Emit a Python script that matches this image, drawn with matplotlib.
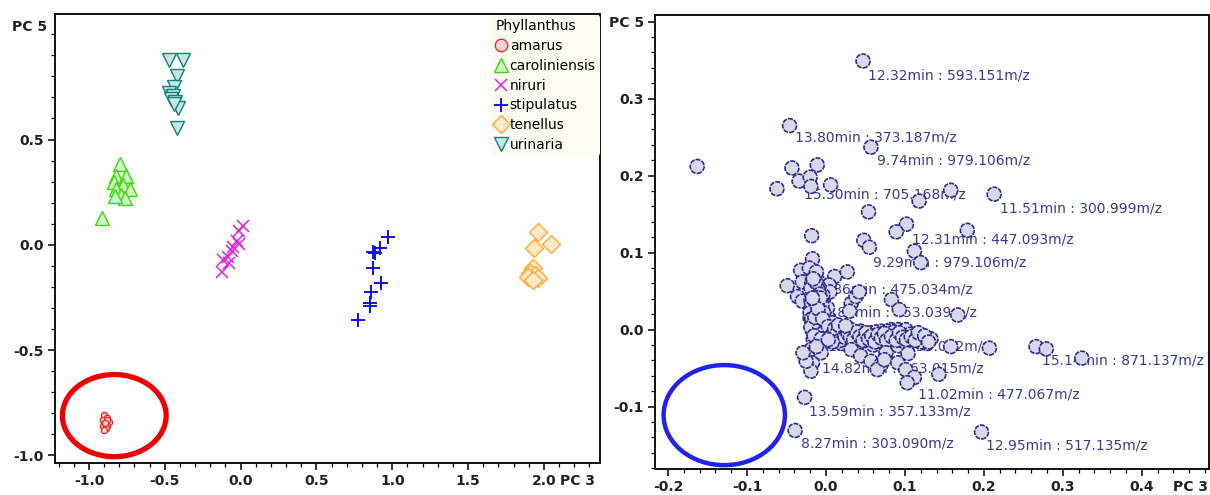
import matplotlib
matplotlib.use("Agg")
import matplotlib.pyplot as plt
from matplotlib.patches import Ellipse
from matplotlib.lines import Line2D
from matplotlib.ticker import MultipleLocator

plt.rcParams['font.family'] = ['DejaVu Sans']
plt.rcParams['axes.unicode_minus'] = False

# ---------------- Left panel: scores (PC3 vs PC5) ----------------
species = ["amarus", "caroliniensis", "niruri", "stipulatus", "tenellus", "urinaria"]

amarus_x = [-0.90, -0.88, -0.91, -0.89, -0.87, -0.90, -0.88, -0.91, -0.89, -0.90, -0.88, -0.895]
amarus_y = [-0.81, -0.82, -0.83, -0.84, -0.84, -0.85, -0.86, -0.86, -0.87, -0.88, -0.83, -0.845]

carol_x = [-0.915, -0.794, -0.820, -0.756, -0.833, -0.774, -0.731, -0.820, -0.789, -0.764, -0.828]
carol_y = [0.127, 0.384, 0.329, 0.329, 0.297, 0.285, 0.263, 0.263, 0.237, 0.222, 0.234]

niruri_x = [0.017, -0.009, -0.026, -0.009, -0.049, -0.059, -0.082, -0.115, -0.075, -0.125]
niruri_y = [0.090, 0.065, 0.017, 0.002, -0.009, -0.030, -0.057, -0.072, -0.088, -0.127]

stip_x = [0.973, 0.922, 0.874, 0.885, 0.870, 0.923, 0.863, 0.852, 0.852, 0.775]
stip_y = [0.038, -0.014, -0.033, -0.041, -0.108, -0.182, -0.225, -0.277, -0.292, -0.355]

ten_x = [1.962, 2.050, 1.933, 1.925, 1.907, 1.940, 1.896, 1.962, 1.929]
ten_y = [0.061, 0.006, -0.017, -0.108, -0.135, -0.143, -0.151, -0.159, -0.167]

uri_x = [-0.471, -0.382, -0.422, -0.438, -0.471, -0.448, -0.461, -0.433, -0.411, -0.440, -0.422]
uri_y = [0.876, 0.879, 0.803, 0.750, 0.722, 0.709, 0.693, 0.678, 0.651, 0.667, 0.557]

left_xticks = [-1.0, -0.5, 0.0, 0.5, 1.0, 1.5, 2.0]
left_yticks = [-1.0, -0.5, 0.0, 0.5]

# ---------------- Right panel: loadings ----------------
load_x = [
    0.047, -0.046, 0.057, -0.163, -0.043, -0.011, -0.034, -0.020, -0.019, 0.006, -0.062,
    0.158, 0.118, 0.213, 0.054, 0.102, 0.089, 0.179, -0.018, 0.048, 0.055, 0.112, 0.120,
    -0.017, -0.032, -0.021, -0.013, 0.011, 0.027, -0.030, -0.006, 0.004, -0.049, -0.036,
    -0.030, 0.032, 0.038, 0.030, -0.019, 0.042, 0.005, 0.083, 0.093, 0.167,
    -0.015, -0.011, -0.006, -0.016, -0.012, -0.008, -0.014, -0.010, -0.005, 0.000, -0.018,
    -0.013, -0.008, -0.003, -0.009, -0.004, 0.002, -0.017, -0.012, -0.020, -0.007, -0.015,
    -0.002, -0.010, 0.004,
    0.002, 0.008, 0.015, 0.019, 0.027, 0.032, 0.040, 0.044, 0.053, 0.057, 0.070, 0.082,
    0.078, 0.091, 0.101, 0.110, 0.124, 0.133, 0.103, 0.091, 0.065, 0.048, 0.024, 0.012,
    0.036, 0.060, 0.075, 0.115, 0.128, 0.020, 0.010, 0.006, 0.016, 0.030, 0.045, 0.088,
    -0.018, -0.014, -0.010, -0.016, -0.011, -0.019, -0.015, -0.009, -0.013, -0.017, -0.007,
    -0.012, -0.016, -0.006, -0.011, -0.015, -0.004, -0.009, -0.013, -0.017, -0.007, -0.010,
    -0.014, -0.004, -0.011, -0.016, -0.002, 0.001,
    0.004, 0.009, 0.013, 0.017, 0.022, 0.026, 0.029, 0.034, 0.038, 0.042, 0.046, 0.050,
    0.055, 0.061, 0.063, 0.068, 0.072, 0.080, 0.085, 0.095, 0.098, 0.106, 0.118, 0.120, 0.086,
    -0.019, -0.013, -0.008, -0.018, -0.005, -0.014, -0.020, -0.009, -0.003, -0.018, -0.013,
    -0.006, -0.019, -0.008, -0.003, -0.015, -0.006, -0.012, -0.016, -0.007, -0.014, -0.010,
    -0.004, -0.017,
    0.003, 0.007, 0.011, 0.014, 0.018, 0.021, 0.024, 0.028, 0.031, 0.035, 0.039, 0.043,
    0.047, 0.051, 0.054, 0.058, 0.062, 0.066, 0.070, 0.074, 0.077, 0.083, 0.089, 0.093,
    0.097, 0.102, 0.108, 0.113, 0.117, 0.125, 0.130, 0.016, 0.025, 0.008, 0.003,
    -0.019, -0.023, -0.017, -0.019, -0.025, -0.006, 0.032, 0.044, 0.057, 0.070, 0.065,
    0.076, 0.074, -0.029, -0.012,
    0.158, 0.207, 0.266, 0.279, 0.324, 0.091, 0.101, 0.112, 0.103, 0.143, 0.104,
    -0.027, -0.039, 0.197,
]
load_y = [
    0.349, 0.265, 0.237, 0.212, 0.210, 0.214, 0.193, 0.198, 0.186, 0.188, 0.183,
    0.181, 0.167, 0.176, 0.153, 0.137, 0.127, 0.129, 0.122, 0.116, 0.107, 0.102, 0.087,
    0.092, 0.077, 0.080, 0.071, 0.069, 0.075, 0.062, 0.060, 0.058, 0.057, 0.043,
    0.037, 0.034, 0.043, 0.024, 0.028, 0.049, 0.049, 0.039, 0.026, 0.019,
    0.017, 0.004, -0.004, 0.050, 0.040, 0.030, 0.025, 0.012, 0.020, 0.010, 0.008,
    -0.010, -0.015, 0.035, 0.055, 0.045, 0.028, 0.065, 0.075, 0.015, 0.002, 0.033,
    -0.008, 0.022, 0.014,
    -0.006, 0.009, -0.009, 0.004, -0.011, 0.000, -0.013, -0.002, -0.015, -0.004, -0.002, 0.000,
    -0.002, 0.000, 0.000, -0.011, -0.013, -0.012, -0.026, -0.021, -0.010, -0.008, -0.004, 0.002,
    -0.017, -0.020, -0.012, -0.005, -0.018, -0.018, -0.014, -0.002, 0.003, -0.006, -0.011, -0.008,
    0.060, 0.058, 0.052, 0.045, 0.048, 0.038, 0.036, 0.038, 0.031, 0.027, 0.026,
    0.021, 0.019, 0.016, 0.013, 0.009, 0.008, 0.006, 0.001, -0.002, -0.001, -0.007,
    -0.005, -0.010, -0.016, -0.012, 0.003, -0.002,
    -0.010, -0.004, -0.012, -0.001, -0.009, -0.002, -0.014, -0.006, -0.010, -0.016, -0.005, -0.012,
    -0.009, -0.013, -0.003, -0.008, -0.015, -0.007, -0.012, -0.008, -0.015, -0.006, -0.010, -0.016, -0.003,
    0.054, 0.062, 0.046, 0.032, 0.032, 0.042, 0.022, 0.018, 0.022, 0.014, 0.006,
    0.011, 0.003, 0.001, -0.004, -0.008, -0.012, 0.034, 0.066, 0.041, 0.016, 0.027,
    0.014, 0.041,
    0.004, -0.008, 0.001, -0.005, -0.014, 0.000, -0.010, -0.005, -0.010, -0.013, -0.003, -0.009,
    -0.014, -0.004, -0.012, -0.008, -0.016, -0.006, -0.011, -0.005, -0.014, -0.009, -0.014, -0.004,
    -0.010, -0.013, -0.009, -0.014, -0.004, -0.008, -0.016, 0.006, 0.005, -0.016, -0.013,
    -0.026, -0.034, -0.043, -0.054, -0.041, -0.030, -0.026, -0.034, -0.041, -0.045, -0.052,
    -0.030, -0.039, -0.030, -0.022,
    -0.022, -0.024, -0.022, -0.025, -0.037, -0.043, -0.052, -0.062, -0.069, -0.058, -0.031,
    -0.088, -0.131, -0.133,
]

label_text = [
    "12.32min : 593.151m/z", "13.80min : 373.187m/z", "9.74min : 979.106m/z",
    "15.30min : 705.168m/z", "11.51min : 300.999m/z", "12.31min : 447.093m/z",
    "9.29min : 979.106m/z", "7.86min : 475.034m/z", "8.82min : 453.039m/z",
    "12.61min : 433.062m/z", "14.82min : 363.015m/z", "15.14min : 871.137m/z",
    "11.02min : 477.067m/z", "13.59min : 357.133m/z", "8.27min : 303.090m/z",
    "12.95min : 517.135m/z",
]
label_x = [0.053, -0.039, 0.065, -0.028, 0.221, 0.109, 0.060, -0.007, -0.002,
           0.002, -0.005, 0.273, 0.1165, -0.021, -0.032, 0.203]
label_y = [0.330, 0.249, 0.220, 0.175, 0.158, 0.117, 0.0875, 0.0517, 0.0228,
           -0.0216, -0.0504, -0.0405, -0.0836, -0.1065, -0.148, -0.151]

right_xticks = [-0.2, -0.1, 0.0, 0.1, 0.2, 0.3, 0.4]
right_yticks = [-0.1, 0.0, 0.1, 0.2, 0.3]

# ---------------- Figure ----------------
W, H = 1210, 495
fig = plt.figure(figsize=(W / 100, H / 100), dpi=100)
axL = fig.add_axes([55 / W, (H - 463) / H, 545 / W, 449 / H])
axR = fig.add_axes([655 / W, (H - 469) / H, 554 / W, 454 / H])

tick_font = dict(fontsize=10, fontweight='bold', color='#222222')

styles = {
    "amarus": dict(marker='o', ms=4.5, mfc='#ffd0d0', mec='#ee2222', mew=0.9),
    "caroliniensis": dict(marker='^', ms=10, mfc='#d2f2c8', mec='#33dd00', mew=1.0),
    "niruri": dict(marker='x', ms=9, mec='#dd22dd', mew=1.1),
    "stipulatus": dict(marker='+', ms=10, mec='#1010ee', mew=1.4),
    "tenellus": dict(marker='D', ms=9, mfc='#ffe8c8', mec='#ffaa33', mew=1.0),
    "urinaria": dict(marker='v', ms=10, mfc='#c8e6e0', mec='#118080', mew=1.0),
}
data = {
    "amarus": (amarus_x, amarus_y),
    "caroliniensis": (carol_x, carol_y),
    "niruri": (niruri_x, niruri_y),
    "stipulatus": (stip_x, stip_y),
    "tenellus": (ten_x, ten_y),
    "urinaria": (uri_x, uri_y),
}
for sp in species:
    x, y = data[sp]
    axL.plot(x, y, linestyle='none', **styles[sp], zorder=3)

axL.set_xlim(-1.224, 2.37)
axL.set_ylim(-1.036, 1.096)
axL.set_xticks(left_xticks)
axL.set_yticks(left_yticks)
axL.set_xticklabels([f"{v:.1f}" for v in left_xticks], **tick_font)
axL.set_yticklabels([f"{v:.1f}" for v in left_yticks], **tick_font)
axL.xaxis.set_minor_locator(MultipleLocator(0.1))
axL.yaxis.set_minor_locator(MultipleLocator(0.1))
axL.annotate("PC 5", xy=(0, 1.035), xycoords=('axes fraction', 'data'),
             xytext=(-6, 0), textcoords='offset points', ha='right', va='center',
             **tick_font)
axL.annotate("PC 3", xy=(2.22, 0), xycoords=('data', 'axes fraction'),
             xytext=(0, -8), textcoords='offset points', ha='center', va='top',
             **tick_font)
axL.add_patch(Ellipse((-0.833, -0.811), 0.684, 0.39, fill=False,
                      edgecolor='#ee0000', lw=3.8, zorder=4))

handles = []
for sp in species:
    st = dict(styles[sp])
    if sp == "amarus":
        st['ms'] = 9
    handles.append(Line2D([], [], linestyle='none', **st))
leg = axL.legend(handles, species, title="Phyllanthus", loc='upper left',
                 bbox_to_anchor=(0.80, 0.998), frameon=True, fontsize=10,
                 title_fontsize=10, handlelength=0.9, handletextpad=0.15,
                 labelspacing=0.42, borderpad=0.3, borderaxespad=0.0,
                 alignment='left')
leg.get_frame().set_facecolor('#fcfcf2')
leg.get_frame().set_edgecolor('none')
leg.get_frame().set_alpha(1.0)

# right panel
for lx, ly, lt in zip(label_x, label_y, label_text):
    axR.text(lx, ly, lt, fontsize=10, color='#3a3a96', ha='left', va='center', zorder=2)
axR.scatter(load_x, load_y, s=100, facecolor='#d8d8ea', edgecolor='#2d2d8c',
            linewidths=1.2, linestyles=(0, (3.0, 0.7)), zorder=3)
axR.set_xlim(-0.2164, 0.485)
axR.set_ylim(-0.181, 0.4087)
axR.set_xticks(right_xticks)
axR.set_yticks(right_yticks + [0.4])
axR.set_xticklabels([f"{v:.1f}" for v in right_xticks], **tick_font)
axR.set_yticklabels([f"{v:.1f}" for v in right_yticks] + ["PC 5"], **tick_font)
axR.xaxis.set_minor_locator(MultipleLocator(0.02))
axR.yaxis.set_minor_locator(MultipleLocator(0.02))
axR.annotate("PC 3", xy=(0.462, 0), xycoords=('data', 'axes fraction'),
             xytext=(0, -8), textcoords='offset points', ha='center', va='top',
             **tick_font)
axR.add_patch(Ellipse((-0.1287, -0.111), 0.1536, 0.130, fill=False,
                      edgecolor='#2222ee', lw=3.2, zorder=4))

for ax in (axL, axR):
    for s in ax.spines.values():
        s.set_linewidth(1.4)
        s.set_color('#111111')
    ax.tick_params(which='major', direction='out', length=5, width=1.1, pad=3)
    ax.tick_params(which='minor', direction='out', length=3, width=0.9)
    ax.tick_params(top=False, right=False, which='both')

fig.savefig("out.png", dpi=100)
